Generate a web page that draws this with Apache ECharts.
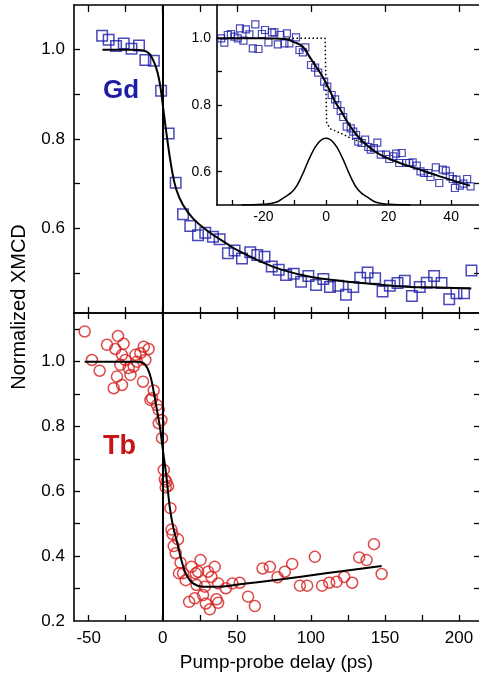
<!DOCTYPE html>
<html>
<head>
<meta charset="utf-8">
<script src="https://cdn.jsdelivr.net/npm/echarts@6/dist/echarts.min.js"></script>
<style>
html,body{margin:0;padding:0;background:#fff;}
#chart{width:479px;height:682px;}
</style>
</head>
<body>
<div id="chart"></div>
<script>
// ---------- tick / label values ----------
const xTicksMainBottom = [-50, -25, 0, 25, 50, 75, 100, 125, 150, 175, 200];
const xTicksMainTop = [-50, -25, 0, 25, 50, 100, 150, 200];
const xLabelsMain = [-50, 0, 50, 100, 150, 200];
const yTicksGd = [0.5, 0.6, 0.7, 0.8, 0.9, 1.0];
const yLabelsGd = [0.6, 0.8, 1.0];
const yTicksTb = [0.3, 0.4, 0.5, 0.6, 0.7, 0.8, 0.9, 1.0, 1.1];
const yLabelsTb = [0.2, 0.4, 0.6, 0.8, 1.0];
const xTicksInset = [-30, -20, -10, 0, 10, 20, 30, 40];
const xLabelsInset = [-20, 0, 20, 40];
const yTicksInset = [0.6, 0.7, 0.8, 0.9, 1.0];
const yLabelsInset = [0.6, 0.8, 1.0];

// ---------- Gd (main panel) ----------
const gdDelay = [-40.9,-36.5,-31.5,-26.3,-21.1,-16,-11.7,-6,-1.1,4.0,8.75,13.7,18.6,23.8,28.7,33.9,38.4,44,48.5,53.5,59.1,63.8,68.7,73.6,78.3,83.3,88.4,93.4,98.3,103.5,108.4,112.9,118.5,123.7,128.6,133.3,138.3,143.4,148.4,153.3,158.5,163.4,168.2,173.5,178.2,183.2,188.2,193.4,198.3,203.4,208.4];
const gdXmcd = [1.031,1.022,1.008,1.014,1.002,1.009,0.977,0.975,0.908,0.812,0.702,0.631,0.605,0.584,0.590,0.581,0.575,0.544,0.550,0.532,0.546,0.540,0.536,0.514,0.507,0.495,0.498,0.480,0.493,0.473,0.486,0.468,0.471,0.451,0.468,0.489,0.501,0.488,0.458,0.471,0.477,0.482,0.448,0.468,0.478,0.493,0.477,0.441,0.454,0.454,0.505];
const gdFitDelay = [-40.7,-20,-13,-8.8,-4.7,-2,0.2,2.5,5.8,9.2,13.7,20.4,29.4,42.9,51.9,74.3,96.8,119.2,141.6,164.1,186.5,208.3];
const gdFitXmcd = [1.0,1.0,0.998,0.99,0.962,0.925,0.872,0.813,0.738,0.686,0.652,0.622,0.596,0.566,0.548,0.514,0.493,0.482,0.475,0.469,0.467,0.465];

// ---------- Gd (inset) ----------
const insetDelay = [-33.5,-32.5,-31.4,-30.4,-29.3,-28.2,-27.5,-26.4,-25.6,-24.5,-23.4,-22.6,-21.6,-20.5,-19.5,-18.4,-17.3,-16.5,-15.4,-14.6,-13.3,-12.5,-11.7,-9.6,-8.5,-7.4,-6.6,-4.8,-3.5,-2.5,-0.6,0.4,1.8,2.9,3.6,4.7,5.5,6.6,7.9,8.7,9.6,10.3,11.4,12.5,13.5,14.3,15.3,16.4,17.5,19.2,20.2,21.5,22.4,23.4,24.2,25.6,26.6,27.7,29.0,30.2,31.3,32.7,33.4,35.1,36.2,37.3,38.3,39.6,40.5,41.2,41.7,42.8,43.9,45.1,46.2];
const insetXmcd = [1.000,0.987,1.010,1.013,1.005,1.000,1.030,0.993,1.027,1.012,0.970,1.042,0.968,1.013,1.025,0.988,1.018,1.018,0.982,1.010,0.985,1.015,0.985,1.003,0.965,0.958,0.973,0.920,0.912,0.897,0.870,0.855,0.830,0.817,0.800,0.782,0.764,0.735,0.730,0.720,0.710,0.690,0.686,0.696,0.674,0.666,0.671,0.687,0.651,0.651,0.638,0.646,0.654,0.626,0.656,0.626,0.626,0.628,0.618,0.601,0.596,0.596,0.584,0.613,0.566,0.606,0.603,0.586,0.578,0.551,0.576,0.558,0.564,0.578,0.556];
const insetFitDelay = [-35,-20,-13,-10.6,-7.4,-5.3,-3.2,-1.1,1.1,3.2,4.5,7.1,9.8,13.0,17.3,23.6,30.0,36.4,46.0];
const insetFitXmcd = [1.0,1.0,0.998,0.99,0.975,0.945,0.915,0.885,0.845,0.805,0.787,0.745,0.710,0.680,0.651,0.626,0.606,0.586,0.558];
const stepDelay = [-12,-0.3,0.2,1.5,4.5,8,12];
const stepXmcd = [1.0,1.0,0.745,0.728,0.716,0.700,0.686];
const pumpDelay = [-27,-20,-16,-13.8,-10.3,-7.7,-5,-2.5,0,2.5,5,7.7,10.3,13.8,16,20,27];
const pumpProfile = [0.500,0.502,0.508,0.520,0.545,0.588,0.646,0.686,0.700,0.686,0.646,0.588,0.545,0.520,0.508,0.502,0.500];

// ---------- Tb ----------
const tbDelay = [-52.7,-47.8,-42.6,-37.6,-33.1,-32.0,-30.9,-30.2,-28.6,-27.5,-27.5,-26.4,-25.2,-23.0,-21.8,-19.6,-18.4,-17.4,-15.1,-13.3,-12.8,-11.7,-9.5,-8.3,-7.2,-6.1,-3.9,-2.7,-2.7,-0.9,-0.5,
  0.7,1.4,2.5,2.0,3.6,5.2,5.9,6.6,10.3,7.4,8.8,12,11,13.7,15.5,19.4,22.3,23.9,25.5,30.6,32.9,35.1,37.4,22.8,28.4,27.2,17.8,21.6,29.1,31.8,36.3,37.4,42.6,47.1,52,57.6,62.2,67.4,72.3,77.5,82.4,87.4,92.6,97.5,102.7,107.6,112.4,117.4,122.5,127.9,132.6,137.6,142.6,147.8];
const tbXmcd = [1.093,1.005,0.972,1.052,0.918,1.039,0.954,1.079,0.990,1.021,0.928,1.055,1.005,0.980,0.959,0.985,1.021,1.0,1.026,0.938,1.046,1.005,1.039,0.882,0.887,0.911,0.866,0.851,0.810,0.820,0.764,
  0.666,0.637,0.630,0.612,0.616,0.548,0.482,0.468,0.452,0.431,0.409,0.380,0.347,0.347,0.326,0.367,0.347,0.352,0.388,0.352,0.336,0.367,0.316,0.311,0.306,0.280,0.259,0.270,0.254,0.236,0.267,0.256,0.301,0.316,0.318,0.275,0.246,0.362,0.367,0.335,0.352,0.376,0.309,0.309,0.398,0.309,0.318,0.321,0.336,0.318,0.396,0.388,0.437,0.345];
const tbFitDelay = [-52.7,-30,-16.2,-11.7,-8.3,-6.1,-3.9,-1.6,-0.5,2.5,4.7,7.0,9.3,12.6,16,20.5,27.2,36.3,52,79,110,147.8];
const tbFitXmcd = [1.0,1.0,1.0,0.99,0.954,0.907,0.851,0.789,0.748,0.645,0.553,0.491,0.45,0.388,0.342,0.316,0.306,0.306,0.313,0.328,0.347,0.370];

const zip = (a, b) => a.map((v, i) => [v, b[i]]);

const FONT = '"Liberation Sans", Arial, Helvetica, sans-serif';
const BLUE = '#1c1ca6';
const RED = '#d41c1c';

function xAx(grid, pos, min, max, ticks, labels, tickLen, extra) {
  return Object.assign({
    type: 'value', gridIndex: grid, position: pos, min: min, max: max,
    axisLine: { show: true, onZero: false, lineStyle: { color: '#000', width: 1.6 } },
    axisTick: { show: true, inside: true, length: tickLen, customValues: ticks, lineStyle: { color: '#000', width: 1.3 } },
    axisLabel: labels ? { show: true, customValues: labels, color: '#000', fontFamily: FONT, fontSize: 17, margin: 9 } : { show: false },
    splitLine: { show: false }
  }, extra || {});
}
function yAx(grid, pos, min, max, ticks, labels, tickLen, fontSize, showLine) {
  return {
    type: 'value', gridIndex: grid, position: pos, min: min, max: max,
    axisLine: { show: showLine, onZero: false, lineStyle: { color: '#000', width: 1.6 } },
    axisTick: { show: true, inside: true, length: tickLen, customValues: ticks, lineStyle: { color: '#000', width: 1.3 } },
    axisLabel: labels ? { show: true, customValues: labels, color: '#000', fontFamily: FONT, fontSize: fontSize, margin: 9,
      formatter: v => Number(v).toFixed(1) } : { show: false },
    splitLine: { show: false }
  };
}

const chart = echarts.init(document.getElementById('chart'), null, { renderer: 'canvas' });

const fitLine = (xi, yi, data, width, z) => ({
  type: 'line', xAxisIndex: xi, yAxisIndex: yi, data: data,
  showSymbol: false, smooth: 0.45,
  lineStyle: { color: '#000', width: width }, emphasis: { disabled: true }, z: z
});

const zeroLine = {
  silent: true, symbol: ['none', 'none'], label: { show: false },
  lineStyle: { color: '#000', width: 2, type: 'solid' },
  data: [{ xAxis: 0 }]
};

const gdFitSeries = fitLine(0, 0, zip(gdFitDelay, gdFitXmcd), 2, 4);
gdFitSeries.markLine = zeroLine;
const tbFitSeries = fitLine(2, 2, zip(tbFitDelay, tbFitXmcd), 2, 4);
tbFitSeries.markLine = zeroLine;

const option = {
  animation: false,
  backgroundColor: '#fff',
  grid: [
    { left: 74, top: 5, right: 0, height: 308 },
    { left: 74, top: 313, right: 0, height: 308 },
    { left: 217, top: 5, right: 0, height: 200 }
  ],
  xAxis: [
    xAx(0, 'bottom', -59.9, 213.5, xTicksMainBottom, null, 6),
    xAx(0, 'top', -59.9, 213.5, xTicksMainTop, null, 7),
    xAx(1, 'bottom', -59.9, 213.5, xTicksMainBottom, xLabelsMain, 6, {
      name: 'Pump-probe delay (ps)', nameLocation: 'middle', nameGap: 32,
      nameTextStyle: { color: '#000', fontFamily: FONT, fontSize: 19 }
    }),
    xAx(1, 'top', -59.9, 213.5, xTicksMainBottom, null, 6),
    (function () {
      const a = xAx(2, 'bottom', -34.85, 48.9, xTicksInset, xLabelsInset, 5);
      a.axisLabel.fontSize = 14; a.axisLabel.margin = 5;
      return a;
    })()
  ],
  yAxis: [
    yAx(0, 'left', 0.41, 1.1, yTicksGd, yLabelsGd, 6, 17, true),
    yAx(0, 'right', 0.41, 1.1, yTicksGd, null, 5, 17, false),
    yAx(1, 'left', 0.2, 1.15, yTicksTb, yLabelsTb, 6, 17, true),
    yAx(1, 'right', 0.2, 1.15, yTicksTb, null, 5, 17, false),
    (function () {
      const a = yAx(2, 'left', 0.5, 1.1, yTicksInset, yLabelsInset, 5, 14, true);
      a.axisLabel.margin = 6;
      return a;
    })()
  ],
  series: [
    {
      type: 'scatter', xAxisIndex: 0, yAxisIndex: 0, data: zip(gdDelay, gdXmcd),
      symbol: 'rect', symbolSize: 10.5,
      itemStyle: { color: 'rgba(255,255,255,0)', borderColor: BLUE, borderWidth: 1.5 },
      emphasis: { disabled: true }, z: 3
    },
    gdFitSeries,
    {
      type: 'scatter', xAxisIndex: 2, yAxisIndex: 2, data: zip(tbDelay, tbXmcd),
      symbol: 'circle', symbolSize: 11,
      itemStyle: { color: 'rgba(255,255,255,0)', borderColor: RED, borderWidth: 1.5 },
      emphasis: { disabled: true }, z: 3
    },
    tbFitSeries,
    {
      type: 'scatter', xAxisIndex: 4, yAxisIndex: 4, data: zip(insetDelay, insetXmcd),
      symbol: 'rect', symbolSize: 7,
      itemStyle: { color: 'rgba(255,255,255,0)', borderColor: BLUE, borderWidth: 1.2 },
      emphasis: { disabled: true }, z: 3
    },
    fitLine(4, 4, zip(insetFitDelay, insetFitXmcd), 2, 4),
    {
      type: 'line', xAxisIndex: 4, yAxisIndex: 4, data: zip(stepDelay, stepXmcd),
      showSymbol: false, smooth: false,
      lineStyle: { color: '#000', width: 1.5, type: [1.5, 2.5] }, emphasis: { disabled: true }, z: 2
    },
    fitLine(4, 4, zip(pumpDelay, pumpProfile), 1.5, 2)
  ],
  graphic: [
    {
      type: 'text', x: 19, y: 307, rotation: Math.PI / 2, silent: true,
      style: { text: 'Normalized XMCD', font: '20px ' + FONT, fill: '#000',
        align: 'center', verticalAlign: 'middle', textAlign: 'center', textVerticalAlign: 'middle' }
    },
    {
      type: 'text', x: 103, y: 91, silent: true,
      style: { text: 'Gd', font: 'bold 26px ' + FONT, fill: BLUE,
        align: 'left', verticalAlign: 'middle', textAlign: 'left', textVerticalAlign: 'middle' }
    },
    {
      type: 'text', x: 103, y: 447, silent: true,
      style: { text: 'Tb', font: 'bold 27px ' + FONT, fill: '#c81414',
        align: 'left', verticalAlign: 'middle', textAlign: 'left', textVerticalAlign: 'middle' }
    }
  ]
};
chart.setOption(option);
</script>
</body>
</html>
